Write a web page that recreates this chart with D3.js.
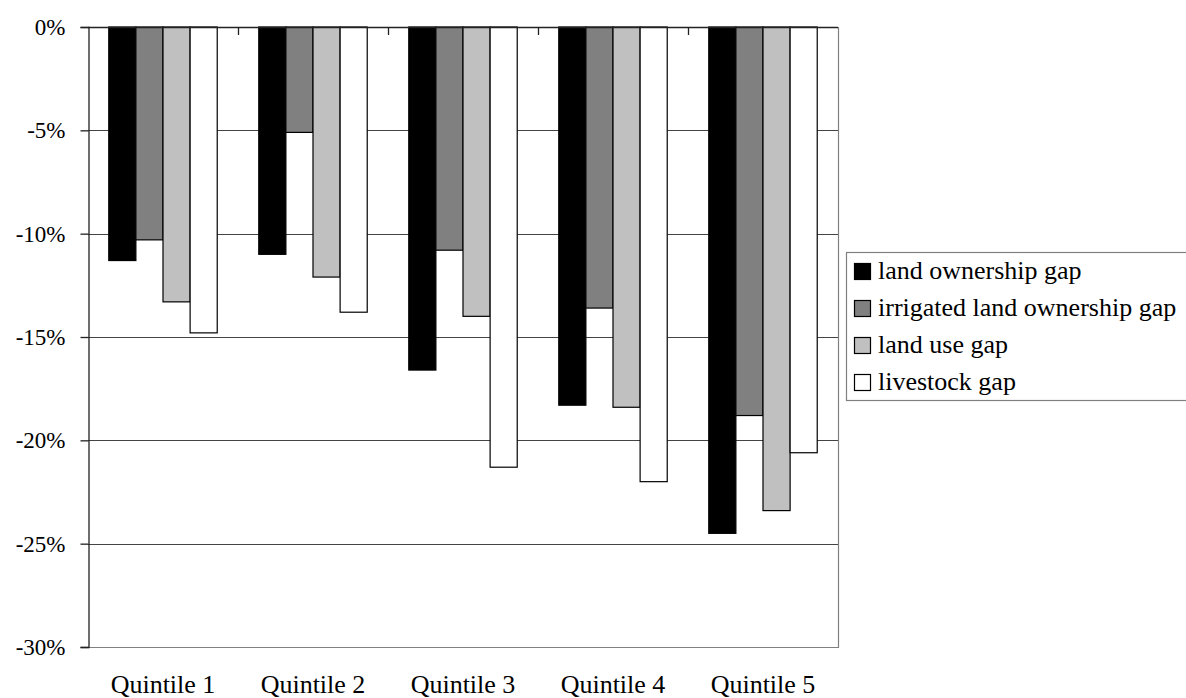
<!DOCTYPE html>
<html>
<head>
<meta charset="utf-8">
<script src="https://cdn.jsdelivr.net/npm/d3@7"></script>
<style>
  html, body { margin: 0; padding: 0; background: #fff; }
  svg { display: block; }
  svg text { font-family: "Liberation Serif", "Times New Roman", Times, "Tinos", "DejaVu Serif", serif !important; }
</style>
</head>
<body>
<svg id="chart" width="1186" height="698"></svg>
<script>
const categories = ["Quintile 1", "Quintile 2", "Quintile 3", "Quintile 4", "Quintile 5"];
const seriesNames = ["land ownership gap", "irrigated land ownership gap", "land use gap", "livestock gap"];
const landOwnership = [-11.3, -11.0, -16.6, -18.3, -24.5];
const irrigatedLand = [-10.3, -5.1, -10.8, -13.6, -18.8];
const landUse = [-13.3, -12.1, -14.0, -18.4, -23.4];
const livestock = [-14.8, -13.8, -21.3, -22.0, -20.6];
const yTicks = [0, -5, -10, -15, -20, -25, -30];
const seriesColors = ["#000000", "#808080", "#c0c0c0", "#ffffff"];

const seriesValues = [landOwnership, irrigatedLand, landUse, livestock];
const svg = d3.select("#chart");
const plot = { left: 88, right: 838, top: 27, bottom: 647 };

const x0 = d3.scaleBand().domain(categories).range([plot.left, plot.right])
  .paddingInner(0.277).paddingOuter(0.1385);
const x1 = d3.scaleBand().domain(seriesNames).range([0, x0.bandwidth()]);
const y = d3.scaleLinear().domain([0, -30]).range([plot.top, plot.bottom]);

// gridlines
svg.append("g").selectAll("line").data(yTicks.filter(t => t !== 0 && t !== -30)).join("line")
  .attr("x1", plot.left).attr("x2", plot.right)
  .attr("y1", d => Math.round(y(d)) + 0.5).attr("y2", d => Math.round(y(d)) + 0.5)
  .attr("stroke", "#444").attr("stroke-width", 1);

// plot border (right & bottom)
svg.append("path")
  .attr("d", `M${plot.right + 0.5},${plot.top}V${plot.bottom + 0.5}H${plot.left}`)
  .attr("fill", "none").attr("stroke", "#808080").attr("stroke-width", 1.2);

// bars
const groups = svg.append("g").selectAll("g").data(categories).join("g")
  .attr("transform", d => `translate(${x0(d)},0)`);
groups.selectAll("rect").data((c, i) => seriesNames.map((s, j) => ({ s, j, v: seriesValues[j][i] })))
  .join("rect")
  .attr("x", d => x1(d.s))
  .attr("y", y(0))
  .attr("width", x1.bandwidth())
  .attr("height", d => y(d.v) - y(0))
  .attr("fill", d => seriesColors[d.j])
  .attr("stroke", "#000").attr("stroke-width", 1.2);

// y axis
const yAxis = d3.axisLeft(y).tickValues(yTicks).tickSize(8).tickPadding(15)
  .tickFormat(d => d + "%");
const yg = svg.append("g").attr("transform", `translate(${plot.left + 0.5},0)`).call(yAxis)
  .attr("font-family", null).attr("font-size", null);
yg.selectAll("path, line").attr("stroke", "#222").attr("stroke-width", 1.3);
yg.selectAll("text").style("font-size", "23px").attr("fill", "#000");

// category axis along 0%, ticks inward
const boundaries = d3.range(categories.length + 1).map(i => plot.left + i * x0.step());
const xg = svg.append("g");
xg.append("line").attr("x1", plot.left).attr("x2", plot.right)
  .attr("y1", y(0) + 0.5).attr("y2", y(0) + 0.5).attr("stroke", "#222").attr("stroke-width", 1.3);
xg.selectAll("line.tk").data(boundaries.slice(1, -1)).join("line").attr("class", "tk")
  .attr("x1", d => d + 0.5).attr("x2", d => d + 0.5)
  .attr("y1", y(0)).attr("y2", y(0) + 8).attr("stroke", "#222").attr("stroke-width", 1.3);

// category labels at bottom
svg.append("g").selectAll("text").data(categories).join("text")
  .attr("x", d => x0(d) + x0.bandwidth() / 2)
  .attr("y", 693)
  .attr("text-anchor", "middle")
  .style("font-size", "26px")
  .text(d => d);

// legend
const lg = svg.append("g");
lg.append("rect").attr("x", 846.5).attr("y", 252.5).attr("width", 345).attr("height", 148)
  .attr("fill", "#fff").attr("stroke", "#808080").attr("stroke-width", 1.2);
const items = lg.selectAll("g").data(seriesNames).join("g")
  .attr("transform", (d, i) => `translate(854,${263 + i * 37})`);
items.append("rect").attr("x", 0.5).attr("y", 0.5).attr("width", 16).attr("height", 16)
  .attr("fill", (d, i) => seriesColors[i]).attr("stroke", "#000").attr("stroke-width", 1.2);
items.append("text").attr("x", 24).attr("y", 16).style("font-size", "26px").text(d => d);
</script>
</body>
</html>
